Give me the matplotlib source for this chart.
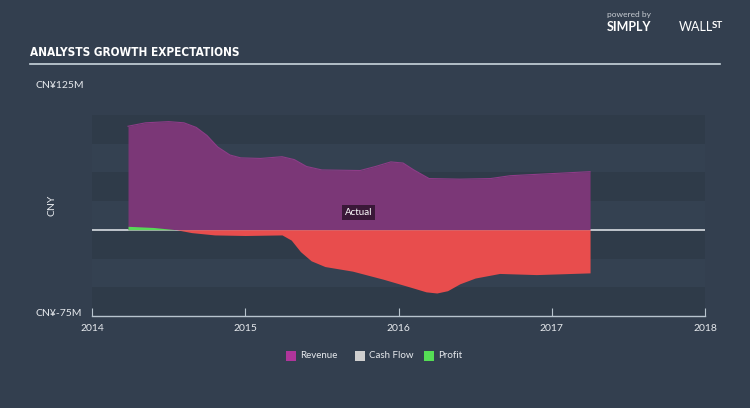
import numpy as np
import matplotlib
matplotlib.use("Agg")
import matplotlib.pyplot as plt
from matplotlib.patches import Rectangle

# values in CNY millions
rev_years = [2014.235, 2014.35, 2014.50, 2014.60, 2014.68, 2014.75, 2014.82, 2014.90,
             2014.97, 2015.10, 2015.24, 2015.32, 2015.40, 2015.50, 2015.75, 2015.85,
             2015.95, 2016.03, 2016.10, 2016.20, 2016.40, 2016.60, 2016.73, 2016.95, 2017.25]
revenue = [90, 93, 94, 93, 89, 82, 72, 65,
           62.5, 62, 63.5, 61, 55, 52, 51.5, 55,
           59, 58, 52, 44.5, 44, 44.5, 47, 48.5, 50.5]

prof_years = [2014.235, 2014.40, 2014.55, 2014.65, 2014.80, 2015.00, 2015.24, 2015.30,
              2015.36, 2015.43, 2015.52, 2015.70, 2015.90, 2016.08, 2016.18, 2016.25, 2016.32,
              2016.40, 2016.50, 2016.66, 2016.90, 2017.25]
profit = [3, 2, 0, -2.5, -4.5, -5, -4.5, -9,
          -19, -27, -32, -36, -43, -50, -54, -55, -53,
          -47, -42, -38, -39, -37.5]

year_ticks = [2014, 2015, 2016, 2017, 2018]
y_min, y_max = -75, 125
band_edges = [100, 75, 50, 25, 0, -25, -50, -75]
legend_names = ["Revenue", "Cash Flow", "Profit"]
legend_colors = ["#b0359b", "#cfcfcf", "#55dd55"]

BG = "#333f4f"
TXT = "#e6e9ed"
FONT = ["Lato", "DejaVu Sans"]

fig = plt.figure(figsize=(7.5, 4.08), dpi=100, facecolor=BG)
ax = fig.add_axes([92 / 750, (408 - 316) / 408, 613 / 750, 230 / 408])
ax.set_facecolor(BG)
ax.set_xlim(2014, 2018)
ax.set_ylim(y_min, y_max)

# alternating background bands
for i in range(len(band_edges) - 1):
    col = "#2f3b49" if i % 2 == 0 else "#344151"
    ax.add_patch(Rectangle((2014, band_edges[i + 1]), 4, band_edges[i] - band_edges[i + 1],
                           facecolor=col, edgecolor="none", zorder=0))

ax.axhline(0, color="#d8dde2", lw=1.2, zorder=1)

ax.fill_between(rev_years, 0, revenue, color="#7b3777", lw=0, zorder=2)
ax.plot(rev_years, revenue, color="#8e3c88", lw=0.8, zorder=2)

p = np.array(profit)
ax.fill_between(prof_years, 0, p, where=p <= 0, interpolate=True, color="#e84d4d", lw=0, zorder=3)
ax.fill_between(prof_years, 0, p, where=p >= 0, interpolate=True, color="#58d858", lw=0, zorder=3)

ax.text(2015.74, 15, "Actual", color="white", fontsize=7, family=FONT, ha="center", va="center",
        zorder=5, bbox=dict(boxstyle="square,pad=0.3", facecolor="#3a1838", edgecolor="none"))

for s in ["top", "right", "left"]:
    ax.spines[s].set_visible(False)
ax.spines["bottom"].set_color("#b8c4ce")
ax.spines["bottom"].set_linewidth(1)
ax.set_yticks([])
ax.set_xticks(year_ticks)
ax.set_xticklabels([str(y) for y in year_ticks], family=FONT, fontsize=7.5, color=TXT)
ax.tick_params(axis="x", direction="in", length=6, color="#b8c4ce", pad=6)

# y range labels and axis name
fig.text(35 / 750, 1 - 86 / 408, "CN¥125M", color=TXT, fontsize=7.5, family=FONT, va="center")
fig.text(35 / 750, 1 - 314 / 408, "CN¥-75M", color=TXT, fontsize=7.5, family=FONT, va="center")
fig.text(52 / 750, 1 - 205 / 408, "CNY", color=TXT, fontsize=7.5, family=FONT, va="center",
         ha="center", rotation=90)

# title and rule
fig.text(30 / 750, 1 - 53 / 408, "ANALYSTS GROWTH EXPECTATIONS", color="white", fontsize=8.5,
         family=["DejaVu Sans"], stretch="condensed", weight="bold", va="center")
fig.add_artist(plt.Line2D([30 / 750, 720 / 750], [1 - 64 / 408] * 2, color="#c8d4dc", lw=1.2))

# branding
fig.text(607 / 750, 1 - 14 / 408, "powered by", color="#c8cdd3", fontsize=6, family=FONT, va="center")
fig.text(607 / 750, 1 - 27 / 408, "SIMPLY", color="white", fontsize=9, family=FONT, weight="bold", va="center")
fig.text(679 / 750, 1 - 27 / 408, "WALL", color="white", fontsize=9, family=FONT, va="center")
fig.text(712 / 750, 1 - 25 / 408, "ST", color="white", fontsize=7, family=FONT, weight="bold", va="center")

# legend
leg_x = [286, 355, 424]
for x, name, col in zip(leg_x, legend_names, legend_colors):
    fig.add_artist(Rectangle((x / 750, 1 - 361 / 408), 10 / 750, 10 / 408, facecolor=col,
                             edgecolor="none", transform=fig.transFigure))
    fig.text((x + 14) / 750, 1 - 356 / 408, name, color=TXT, fontsize=7, family=FONT, va="center")

fig.savefig("out.png", dpi=100, facecolor=BG)
